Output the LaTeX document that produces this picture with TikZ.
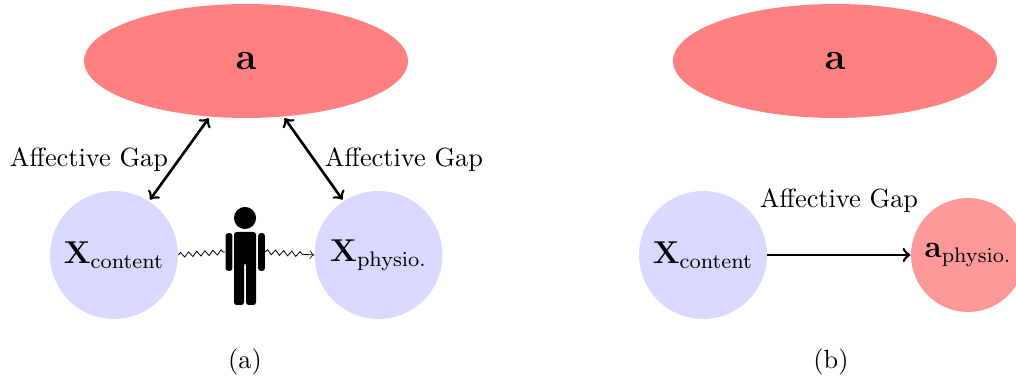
\documentclass[tikz,border=0pt]{standalone}
\usetikzlibrary{shapes.geometric,decorations.pathmorphing}
\definecolor{redA}{HTML}{FF8080}
\definecolor{redB}{HTML}{FF9999}
\definecolor{blueA}{HTML}{D9D9FF}
\tikzset{
  x=0.38pt,y=-0.38pt,
  bigell/.style={ellipse,fill=redA,minimum width=123.1pt,minimum height=43.3pt,inner sep=0pt,font=\Large},
  bluecirc/.style={circle,fill=blueA,minimum size=48.6pt,inner sep=0pt,font=\large},
  redcirc/.style={circle,fill=redB,minimum size=43.3pt,inner sep=0pt,font=\large},
  gap/.style={<->,line width=1pt,shorten >=0.6pt,shorten <=0.6pt},
  gapone/.style={->,line width=1pt},
  wig/.style={line width=0.3pt,decorate,decoration={zigzag,amplitude=0.95pt,segment length=3.1pt}},
  wigarrow/.style={->,line width=0.3pt,decorate,decoration={zigzag,amplitude=0.95pt,segment length=3.1pt,post length=4.5pt}},
  bodypart/.style={fill=black,rounded corners=1pt,inner sep=0pt,rectangle},
  lab/.style={inner sep=0pt}
}
\begin{document}
\begin{tikzpicture}
\useasboundingbox (0,0) rectangle (1016,379);
% panel a
\node[bigell] (a1) at (246,61) {\raisebox{-0.7pt}{$\mathbf{a}$}};
\node[bluecirc] (xc1) at (114,255) {$\mathbf{X}_{\mathrm{content}}$};
\node[bluecirc] (xp1) at (378.5,255) {$\mathbf{X}_{\mathrm{physio.}}$};
\node[lab] (g1) at (89,159.5) {Affective Gap};
\node[lab] (g2) at (404,159.5) {Affective Gap};
\node[lab] (ca) at (245,361.5) {(a)};
% person
\node[circle,fill=black,minimum size=8.4pt,inner sep=0pt] (head) at (245,218) {};
\node[bodypart,minimum width=2.5pt,minimum height=14.4pt] (larm) at (229,252) {};
\node[bodypart,minimum width=2.5pt,minimum height=14.4pt] (rarm) at (261.5,252) {};
\fill[black,rounded corners=1pt] (234,305) -- (234,232) -- (256,232) -- (256,305) -- (246,305) -- (246,263) -- (244,263) -- (244,305) -- cycle;
% connectors
\draw[gap] (xc1.57) -- (a1.-123.7);
\draw[gap] (xp1.123) -- (a1.-56.3);
\draw[wig] (xc1.east) -- (larm.west);
\draw[wigarrow] (rarm.east) -- (xp1.west);
% panel b
\node[bigell] (a2) at (835,61) {\raisebox{-0.7pt}{$\mathbf{a}$}};
\node[bluecirc] (xc2) at (703,255) {$\mathbf{X}_{\mathrm{content}}$};
\node[redcirc] (ap) at (968,255) {$\mathbf{a}_{\mathrm{physio.}}$};
\node[lab] (g3) at (839,201) {Affective Gap};
\node[lab] (cb) at (831,361.5) {(b)};
\draw[gapone] (xc2) -- (ap);
\end{tikzpicture}
\end{document}
